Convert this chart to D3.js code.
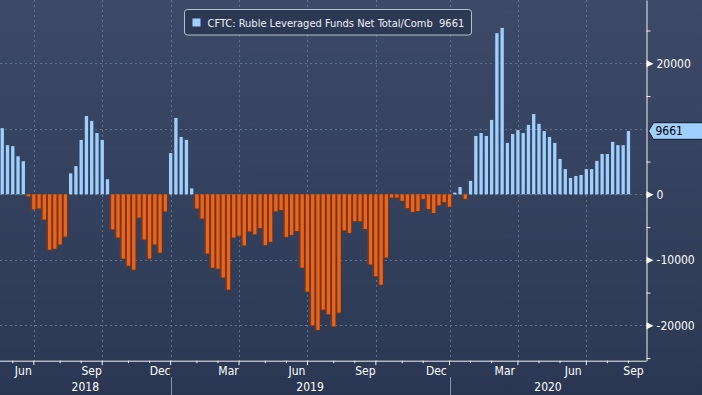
<!DOCTYPE html>
<html>
<head>
<meta charset="utf-8">
<script src="https://cdn.jsdelivr.net/npm/d3@7"></script>
<style>
  html, body { margin: 0; padding: 0; background: #2a3752; }
  svg { display: block; }
  text { font-family: "DejaVu Sans Condensed", "DejaVu Sans", sans-serif; font-stretch: condensed; }
</style>
</head>
<body>
<script>
// weekly CFTC report dates start here (Tuesdays)
const firstReport = "2018-05-15"

// net positions, contracts
const net2018 = [10100, 7500, 7350, 5800, 5050, -300, -2300, -2150, -3850, -8450,
                 -8300, -7650, -6450, 3200, 4300, 8300, 11950, 11200, 9350, 8300,
                 2300, -5350, -6600, -9800, -10900, -11500, -3550, -6900, -9800, -7650,
                 -8900, -2600, 6300]
const net2019 = [11650, 8750, 8300, 900, -2150, -3700, -9050, -11200, -11350, -12700,
                 -14550, -6600, -6300, -7800, -5650, -6100, -5150, -7750, -7250, -2600,
                 -2400, -6500, -6200, -5600, -11200, -14850, -20000, -20700, -17600, -18300,
                 -20150, -18050, -5500, -5900, -4100, -4100, -5300, -10700, -12500, -13800,
                 -9650, -500, -500, -1000, -2100, -2700, -2550, -700, -2250, -2850,
                 -1650, -1200, -1900]
const net2020 = [250, 1100, -700, 2050, 8900, 9350, 8900, 11350, 24600, 25400,
                 7850, 9200, 9800, 9350, 10600, 12250, 10750, 9650, 8750, 7850,
                 5400, 3850, 2500, 2800, 2950, 3850, 3850, 5100, 6150, 6150,
                 8000, 7500, 7500, 9661]

const yMajorTicks = [-20000, -10000, 0, 10000, 20000]
const yMinorTicks = [-25000, -15000, -5000, 5000, 15000, 25000]
const labelledMonths = ["Mar", "Jun", "Sep", "Dec"]
const seriesName = "CFTC: Ruble Leveraged Funds Net Total/Comb"

const width = 702, height = 395
const plotRight = 646.5, axisY = 360.7
const step = 5.262

const netValues = net2018.concat(net2019, net2020)
const start = d3.timeParse("%Y-%m-%d")(firstReport)
const reportDates = netValues.map((v, i) => d3.timeDay.offset(start, 7 * i))
const data = reportDates.map((d, i) => ({ date: d, value: netValues[i] }))
const lastValue = netValues[netValues.length - 1]

const x = d3.scaleBand()
            .domain(reportDates)
            .range([-0.38, -0.38 + step * reportDates.length])
            .paddingInner(0.37)
            .paddingOuter(0.185)

const y = d3.scaleLinear()
            .domain([-25400, 29660])
            .range([axisY, 0])

const center = d => x(d) + x.bandwidth() / 2
const monthFmt = d3.timeFormat("%b")
const yLast = y(lastValue)

// last report of each month -> axis ticks
const monthEnds = reportDates.filter((d, i) =>
    i === reportDates.length - 1 || reportDates[i + 1].getMonth() !== d.getMonth())
const quarterEnds = monthEnds.filter(d => d.getMonth() % 3 === 2)

let svg = d3.select("body")
            .append("svg")
            .attr("width", width)
            .attr("height", height)

const defs = svg.append("defs")
const bg = defs.append("linearGradient")
               .attr("id", "bg")
               .attr("x1", 0).attr("y1", 0)
               .attr("x2", 0).attr("y2", 1)
bg.append("stop").attr("offset", "0%").attr("stop-color", "#3d4a67")
bg.append("stop").attr("offset", "91%").attr("stop-color", "#2d3a56")
bg.append("stop").attr("offset", "100%").attr("stop-color", "#2a3651")

defs.append("clipPath")
      .attr("id", "plotClip")
    .append("rect")
      .attr("x", 0).attr("y", 0)
      .attr("width", plotRight).attr("height", axisY)

svg.append("rect")
     .attr("width", width)
     .attr("height", height)
     .attr("fill", "url(#bg)")

// grid
const gGrid = svg.append("g")
                 .attr("stroke", "#5f7390")
                 .attr("stroke-width", 1)
                 .attr("stroke-dasharray", "2,3")

gGrid.selectAll("line.h")
     .data(yMajorTicks)
     .join("line")
       .attr("class", "h")
       .attr("x1", 0).attr("x2", plotRight)
       .attr("y1", d => Math.round(y(d)) + 0.5)
       .attr("y2", d => Math.round(y(d)) + 0.5)

gGrid.selectAll("line.v")
     .data(quarterEnds)
     .join("line")
       .attr("class", "v")
       .attr("x1", d => Math.round(center(d)) + 0.5)
       .attr("x2", d => Math.round(center(d)) + 0.5)
       .attr("y1", 0).attr("y2", axisY)

// bars
const gBars = svg.append("g")
                 .attr("clip-path", "url(#plotClip)")

const negatives = data.filter(d => d.value < 0)
const positives = data.filter(d => d.value >= 0)

gBars.selectAll("rect.shade")
     .data(negatives)
     .join("rect")
       .attr("class", "shade")
       .attr("x", d => x(d.date) - 1.95)
       .attr("y", y(0))
       .attr("width", x.bandwidth() + 1.95)
       .attr("height", d => y(d.value) - y(0) + 0.7)
       .attr("fill", "#7b3516")

gBars.selectAll("rect.neg")
     .data(negatives)
     .join("rect")
       .attr("class", "neg")
       .attr("x", d => x(d.date))
       .attr("y", y(0))
       .attr("width", x.bandwidth())
       .attr("height", d => y(d.value) - y(0))
       .attr("fill", "#e8651e")

gBars.selectAll("rect.pos")
     .data(positives)
     .join("rect")
       .attr("class", "pos")
       .attr("x", d => x(d.date))
       .attr("y", d => y(d.value))
       .attr("width", x.bandwidth())
       .attr("height", d => Math.max(0.8, y(0) - y(d.value)))
       .attr("fill", "#9fd0fd")

// bottom axis
const gX = svg.append("g")
              .attr("transform", `translate(0,${axisY})`)
              .call(d3.axisBottom(x)
                      .tickValues(monthEnds)
                      .tickSize(2.5)
                      .tickSizeOuter(0)
                      .tickFormat(""))
gX.select(".domain").remove()
gX.selectAll(".tick line")
  .attr("stroke", "#eef0f4")
  .attr("y2", d => d.getMonth() % 3 === 2 ? 4.5 : 2.5)

gX.append("line")
    .attr("x1", 0).attr("x2", plotRight)
    .attr("y1", 0.5).attr("y2", 0.5)
    .attr("stroke", "#eef0f4")

// month labels, centred in each month span
const spanEdges = [0].concat(monthEnds.map(center), [plotRight])
const spanMonths = monthEnds.map(d => d).concat([d3.timeMonth.offset(monthEnds[monthEnds.length - 1], 1)])
const monthLabels = spanMonths.map((d, i) => ({
    name: monthFmt(d),
    mid: Math.min((spanEdges[i] + spanEdges[i + 1]) / 2, plotRight - 13)
})).filter(m => labelledMonths.includes(m.name))

svg.append("g")
   .selectAll("text")
   .data(monthLabels)
   .join("text")
     .attr("x", d => d.mid)
     .attr("y", 375)
     .attr("text-anchor", "middle")
     .attr("font-size", 12)
     .attr("fill", "#ffffff")
     .text(d => d.name)

// year labels and separators
const decTicks = quarterEnds.filter(d => d.getMonth() === 11).map(center)
const yearEdges = [0].concat(decTicks, [plotRight])
const years = ["2018", "2019", "2020"]

svg.append("g")
   .selectAll("text")
   .data(years)
   .join("text")
     .attr("x", (d, i) => (yearEdges[i] + yearEdges[i + 1]) / 2)
     .attr("y", 391)
     .attr("text-anchor", "middle")
     .attr("font-size", 12)
     .attr("fill", "#ffffff")
     .text(d => d)

svg.append("g")
   .selectAll("line")
   .data(decTicks)
   .join("line")
     .attr("x1", d => Math.round(d) + 0.5)
     .attr("x2", d => Math.round(d) + 0.5)
     .attr("y1", 377).attr("y2", height)
     .attr("stroke", "#8794aa")

// right axis
const gYMinor = svg.append("g")
                   .attr("transform", `translate(${plotRight},0)`)
                   .call(d3.axisRight(y)
                           .tickValues(yMinorTicks)
                           .tickSize(4)
                           .tickSizeOuter(0)
                           .tickFormat(""))
gYMinor.select(".domain").attr("stroke", "#eef0f4")
gYMinor.selectAll(".tick line").attr("stroke", "#eef0f4")

// labels hidden under the last-value tag are skipped, as on the terminal
const visibleMajors = yMajorTicks.filter(v => Math.abs(y(v) - yLast) > 14)

const gYMajor = svg.append("g")
                   .attr("transform", `translate(${plotRight},0)`)
                   .attr("font-family", null)
                   .call(d3.axisRight(y)
                           .tickValues(visibleMajors)
                           .tickSize(0)
                           .tickPadding(10)
                           .tickFormat(d => String(d)))
gYMajor.attr("font-family", null)
gYMajor.select(".domain").remove()
gYMajor.selectAll(".tick text")
       .attr("font-size", 12)
       .attr("fill", "#ffffff")
gYMajor.selectAll(".tick")
       .append("path")
         .attr("d", "M0,-3.5L7,0L0,3.5Z")
         .attr("fill", "#ffffff")

// last value tag
svg.append("path")
     .attr("d", `M${plotRight + 2},${yLast}L${plotRight + 7},${yLast - 8.3}H${width + 2}V${yLast + 8.3}H${plotRight + 7}Z`)
     .attr("fill", "#9fd0fd")
     .attr("stroke", "#141a24")
svg.append("text")
     .attr("x", plotRight + 9)
     .attr("y", yLast)
     .attr("dy", "0.36em")
     .attr("font-size", 12)
     .attr("fill", "#000000")
     .text(lastValue)

// legend
const gLegend = svg.append("g")
gLegend.append("rect")
         .attr("x", 184.5).attr("y", 9.5)
         .attr("width", 287).attr("height", 25.5)
         .attr("rx", 3)
         .attr("fill", "#2c3954")
         .attr("stroke", "#b8c0cc")
gLegend.append("rect")
         .attr("x", 192.5).attr("y", 18.5)
         .attr("width", 8).attr("height", 8)
         .attr("fill", "#9fd0fd")
gLegend.append("text")
         .attr("x", 207.5)
         .attr("y", 27)
         .attr("font-size", 11)
         .attr("fill", "#eef0f4")
         .attr("xml:space", "preserve")
         .text(`${seriesName}  ${lastValue}`)
</script>
</body>
</html>
